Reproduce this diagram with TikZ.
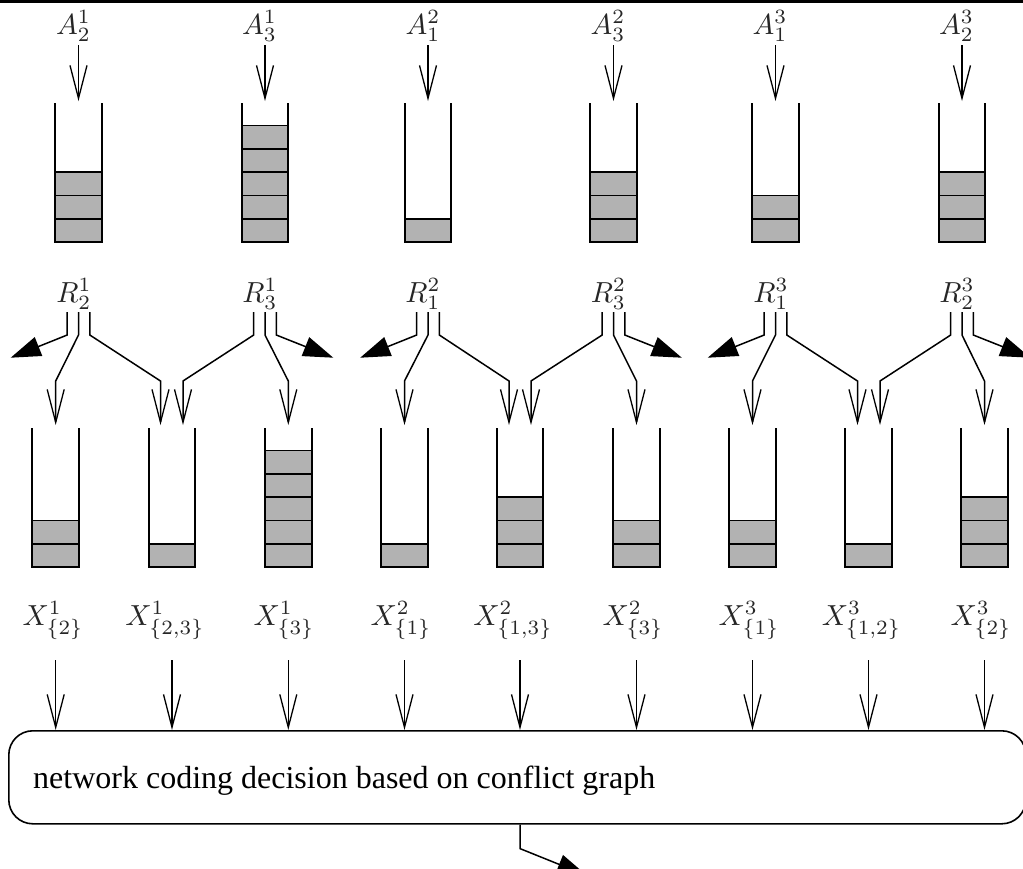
\documentclass[tikz,border=0pt]{standalone}
\usepackage[no-math]{fontspec}
\setmainfont{Liberation Serif}
\usetikzlibrary{arrows.meta,calc}

% one queue: centre x, top of walls, bottom, number of filled cells
\newcommand{\drawqueue}[4]{%
  \foreach \k in {1,...,#4}{%
    \draw[cell] ({#1-23.4},{#3-(\k-1)*23.3}) rectangle ({#1+23.4},{#3-\k*23.3});
  }%
  \draw[wall] ({#1-23.4},#2) -- ({#1-23.4},#3) -- ({#1+23.4},#3) -- ({#1+23.4},#2);
}
% math labels: ordinary 10pt math, enlarged
\newcommand{\biglabel}[1]{\scalebox{2.9}{$#1$}}

\tikzset{
  wall/.style={line width=1.9pt},
  cell/.style={draw, line width=1.6pt, fill=black!30},
  feed/.style={line width=1.5pt, -{Straight Barb[length=33pt,width=17pt,line width=1.3pt]}},
  spill/.style={line width=1.5pt, -{Triangle[length=30pt,width=20pt]}},
  sym/.style={inner sep=0pt, anchor=base, text=black!85},
  decision/.style={draw, line width=1.6pt, rounded corners=24pt, anchor=north west,
    minimum width=1017pt, minimum height=93pt, inner sep=0pt},
}

\begin{document}
\begin{tikzpicture}[x=1pt, y=-1pt]
\useasboundingbox (0,0) rectangle (1023,868);
\clip (0,0) rectangle (1023,868);

% rule along the top edge
\draw[line width=2.6pt] (0,1.3) -- (1023,1.3);

% ---- arrival queues ----
\drawqueue{78.5}{103}{242}{3}
\drawqueue{265}{103}{242}{5}
\drawqueue{428}{103}{242}{1}
\drawqueue{613.5}{103}{242}{3}
\drawqueue{775.5}{103}{242}{2}
\drawqueue{962}{103}{242}{3}

\coordinate (top1) at (78.5,101);
\coordinate (top2) at (265,101);
\coordinate (top3) at (428,101);
\coordinate (top4) at (613.5,101);
\coordinate (top5) at (775.5,101);
\coordinate (top6) at (962,101);

\node[sym] (A1) at (73.5,34) {\biglabel{A^1_2}};
\node[sym] (A2) at (259.5,34) {\biglabel{A^1_3}};
\node[sym] (A3) at (423,34) {\biglabel{A^2_1}};
\node[sym] (A4) at (608,34) {\biglabel{A^2_3}};
\node[sym] (A5) at (770,34) {\biglabel{A^3_1}};
\node[sym] (A6) at (956.5,34) {\biglabel{A^3_2}};

\foreach \i in {1,...,6}
  \draw[feed] ($(A\i.base -| top\i)+(0,11)$) -- (top\i);

% ---- routing labels ----
\node[sym] (R1) at (74,302) {\biglabel{R^1_2}};
\node[sym] (R2) at (260,302) {\biglabel{R^1_3}};
\node[sym] (R3) at (423,302) {\biglabel{R^2_1}};
\node[sym] (R4) at (608.5,302) {\biglabel{R^2_3}};
\node[sym] (R5) at (771,302) {\biglabel{R^3_1}};
\node[sym] (R6) at (957,302) {\biglabel{R^3_2}};

\coordinate (f1) at (78.5,312);
\coordinate (f2) at (265,312);
\coordinate (f3) at (428,312);
\coordinate (f4) at (613.5,312);
\coordinate (f5) at (775.5,312);
\coordinate (f6) at (962,312);

% entry points of the relay queues
\coordinate (in1) at (55.7,425);
\coordinate (in2a) at (160.5,425);
\coordinate (in2b) at (183,425);
\coordinate (in3) at (288.3,425);
\coordinate (in4) at (404.5,425);
\coordinate (in5a) at (509,425);
\coordinate (in5b) at (531,425);
\coordinate (in6) at (636.5,425);
\coordinate (in7) at (752.5,425);
\coordinate (in8a) at (857.5,425);
\coordinate (in8b) at (880,425);
\coordinate (in9) at (984.5,425);

\foreach \a/\b/\l/\ma/\mb/\r in {f1/f2/in1/in2a/in2b/in3,
                                   f3/f4/in4/in5a/in5b/in6,
                                   f5/f6/in7/in8a/in8b/in9}{
  \draw[spill] ($(\a)+(-11.3,0)$) -- ++(0,23) -- ++(-56.5,22.7);
  \draw[feed] (\a) -- ++(0,23) -- ($(\l)+(0,-44)$) -- (\l);
  \draw[feed] ($(\a)+(11.3,0)$) -- ++(0,23) -- ($(\ma)+(0,-44)$) -- (\ma);
  \draw[feed] ($(\b)+(-11.3,0)$) -- ++(0,23) -- ($(\mb)+(0,-44)$) -- (\mb);
  \draw[feed] (\b) -- ++(0,23) -- ($(\r)+(0,-44)$) -- (\r);
  \draw[spill] ($(\b)+(11.3,0)$) -- ++(0,23) -- ++(57,22.7);
}

% ---- relay queues ----
\drawqueue{55.7}{428}{567}{2}
\drawqueue{172}{428}{567}{1}
\drawqueue{288.3}{428}{567}{5}
\drawqueue{404.5}{428}{567}{1}
\drawqueue{520}{428}{567}{3}
\drawqueue{636.5}{428}{567}{2}
\drawqueue{752.5}{428}{567}{2}
\drawqueue{868.5}{428}{567}{1}
\drawqueue{984.5}{428}{567}{3}

\coordinate (q1) at (55.7,567);
\coordinate (q2) at (172,567);
\coordinate (q3) at (288.3,567);
\coordinate (q4) at (404.5,567);
\coordinate (q5) at (520,567);
\coordinate (q6) at (636.5,567);
\coordinate (q7) at (752.5,567);
\coordinate (q8) at (868.5,567);
\coordinate (q9) at (984.5,567);

\node[sym] (X1) at (53,625) {\biglabel{X^1_{\{2\}}}};
\node[sym] (X2) at (165,625) {\biglabel{X^1_{\{2,3\}}}};
\node[sym] (X3) at (284,625) {\biglabel{X^1_{\{3\}}}};
\node[sym] (X4) at (401,625) {\biglabel{X^2_{\{1\}}}};
\node[sym] (X5) at (513,625) {\biglabel{X^2_{\{1,3\}}}};
\node[sym] (X6) at (633,625) {\biglabel{X^2_{\{3\}}}};
\node[sym] (X7) at (749,625) {\biglabel{X^3_{\{1\}}}};
\node[sym] (X8) at (861.5,625) {\biglabel{X^3_{\{1,2\}}}};
\node[sym] (X9) at (981,625) {\biglabel{X^3_{\{2\}}}};

% ---- coding decision ----
\node[decision] (ncd) at (8,730) {};
\node[anchor=base west, inner sep=0pt, font=\fontsize{32}{38}\selectfont] (ncdtext) at (33,788)
  {network coding decision based on conflict graph};

\foreach \i in {1,...,9}
  \draw[feed] ($(X\i.base -| q\i)+(0,35)$) -- (q\i |- ncd.north);

\draw[spill] (ncd.south -| q5) -- ++(0,24) -- ++(67,27);
\end{tikzpicture}
\end{document}
